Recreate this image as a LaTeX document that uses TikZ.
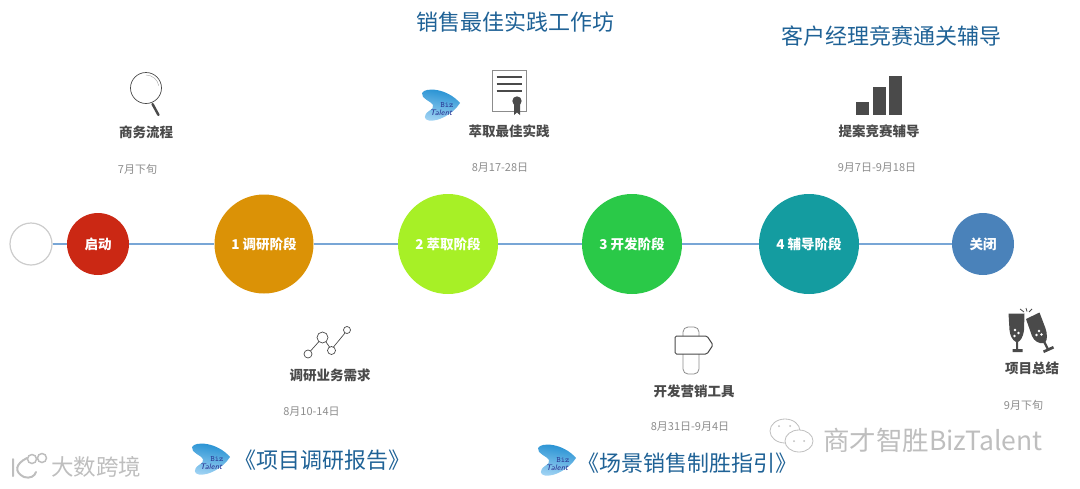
\documentclass[tikz,border=0pt]{standalone}
\usepackage{fontspec}
\setmainfont{Noto Sans CJK SC}
\definecolor{linkblue}{HTML}{78A6D6}
\definecolor{titleblue}{HTML}{1F6296}
\definecolor{icongray}{HTML}{4A4A4A}
\definecolor{markgray}{HTML}{BEBEBE}
\definecolor{logotop}{HTML}{1C8CD0}
\definecolor{logobottom}{HTML}{A2D4F4}
\definecolor{logotext}{HTML}{27308F}
\tikzset{
  stage/.style={circle,inner sep=0pt,text=white,font=\fontsize{13.5}{15}\selectfont\bfseries},
  task/.style={text=icongray,inner sep=0pt,font=\fontsize{13.5}{16}\selectfont\bfseries},
  date/.style={text=black!45,inner sep=0pt,font=\fontsize{11}{12}\selectfont},
  bigtitle/.style={text=titleblue,inner sep=0pt,font=\fontsize{22}{26}\selectfont},
  wmark/.style={text=markgray,inner sep=0pt,font=\fontsize{22.5}{28}\selectfont},
  logo/.pic={
    \path[shade,top color=logotop,bottom color=logobottom,shading angle=-10]
      (-19,-12) .. controls (-16,-18) and (6,-17) .. (19,-2)
      .. controls (12,9) and (-3,17) .. (-12,15.5)
      .. controls (-17,15) and (-18,10) .. (-12,6)
      .. controls (-9,4) and (-7,2) .. (-8,0)
      .. controls (-10,-4) and (-20,-6) .. (-19,-12) -- cycle;
    \node[text=logotext,inner sep=0pt,font=\fontsize{8}{8}\ttfamily] at (6,0.5) {Biz};
    \node[text=logotext,inner sep=0pt,font=\fontsize{8}{8}\itshape\sffamily] at (0,7.5) {Talent};
  }
}
\begin{document}
\begin{tikzpicture}[x=1pt,y=-1pt]
  \useasboundingbox (0,0) rectangle (1080,488);

  % Etapas
  \node (s0) at (31,244) [circle,inner sep=0pt,minimum size=42pt,draw=black!20,line width=1.2pt,fill=white] {};
  \node (s1) at (98,244) [stage,minimum size=62pt,fill={rgb,255:red,203;green,40;blue,20}] {启动};
  \node (s2) at (264,244) [stage,minimum size=99pt,fill={rgb,255:red,219;green,146;blue,6}] {1 调研阶段};
  \node (s3) at (448,244) [stage,minimum size=100pt,fill={rgb,255:red,167;green,240;blue,38}] {2 萃取阶段};
  \node (s4) at (632,244) [stage,minimum size=100pt,fill={rgb,255:red,42;green,201;blue,72}] {3 开发阶段};
  \node (s5) at (809,244) [stage,minimum size=100pt,fill={rgb,255:red,20;green,156;blue,160}] {4 辅导阶段};
  \node (s6) at (983,244) [stage,minimum size=62pt,fill={rgb,255:red,74;green,130;blue,186}] {关闭};

  % Enlaces
  \foreach \from/\to in {s0/s1, s1/s2, s2/s3, s3/s4, s4/s5, s5/s6}
    \draw[linkblue,line width=2pt] (\from) -- (\to);

  % Tareas
  \node[task] (t1) at (146,132) {商务流程};
  \node[task] (t2) at (509,131) {萃取最佳实践};
  \node[task] (t3) at (879,131) {提案竞赛辅导};
  \node[task] (t4) at (330,375) {调研业务需求};
  \node[task] (t5) at (694,391) {开发营销工具};
  \node[task] (t6) at (1032,368) {项目总结};

  % Fechas
  \node[date] (d1) at (137.5,169) {7月下旬};
  \node[date] (d2) at (500,168) {8月17-28日};
  \node[date] (d3) at (877,168) {9月7日-9月18日};
  \node[date] (d4) at (311.5,412) {8月10-14日};
  \node[date] (d5) at (690,427) {8月31日-9月4日};
  \node[date] (d6) at (1023.5,405) {9月下旬};

  % Títulos
  \node[bigtitle] (b1) at (515.5,22) {销售最佳实践工作坊};
  \node[bigtitle] (b2) at (891.5,36) {客户经理竞赛通关辅导};
  \node[bigtitle] (b3) at (322,460) {《项目调研报告》};
  \node[bigtitle] (b4) at (687.5,463) {《场景销售制胜指引》};

  % Logos
  \pic at (441,105) {logo};
  \pic at (211,459) {logo};
  \pic at (557,460) {logo};

  % Lupa
  \draw[icongray,line width=.7pt] (146,88) circle (15.5);
  \draw[black!30,line width=.5pt] (146,75) arc (-90:-10:13);
  \draw[icongray,line width=2.4pt,line cap=round] (152.5,104) -- (158.5,115);

  % Certificado
  \draw[black!45,line width=.7pt] (492.5,70) rectangle (526,111);
  \foreach \y in {77,84,90.5}
    \draw[icongray,line width=2pt] (496.5,\y) -- (522,\y);
  \fill[icongray] (517,101) circle (4.7);
  \fill[icongray] (514,104) -- (514,115) -- (517,112.5) -- (520,115) -- (520,104) -- cycle;

  % Barras
  \fill[icongray] (856,101.5) rectangle (869,114.5);
  \fill[icongray] (872.5,87) rectangle (885.5,114.5);
  \fill[icongray] (889,75.5) rectangle (902,114.5);

  % Curva
  \foreach \cx/\cy/\r in {308/354/4, 322.5/337.5/5.5, 331.5/350.5/4, 347/330/3.5}
    \draw[icongray,line width=.7pt] (\cx,\cy) circle (\r);
  \draw[icongray,line width=.7pt] (310.5,351) -- (319,341.5) (326,342) -- (329.5,347) (333.5,347) -- (345,333);

  % Señal
  \draw[black!45,line width=.8pt,rounded corners=5pt] (683,336) -- (683,327) -- (699,327) -- (699,336);
  \draw[black!45,line width=.8pt,rounded corners=5pt] (683,354) -- (683,374) -- (699,374) -- (699,354);
  \draw[icongray,line width=1pt,rounded corners=1.5pt] (675,336) -- (707,336) -- (713,345) -- (707,354) -- (675,354) -- cycle;

  % Copas
  \fill[icongray] (1008.5,313.5) -- (1024.5,313.5) -- (1024,330) .. controls (1023,338) and (1020,341) .. (1018,342)
    -- (1018,349) -- (1022.5,349) -- (1022.5,352) -- (1012.5,352) -- (1012.5,349) -- (1016,349) -- (1016,342)
    .. controls (1012,340) and (1010,335) .. (1009.5,330) -- cycle;
  \fill[icongray] (1026,319) -- (1039.5,312.5) -- (1045,327) .. controls (1048,335) and (1047,340) .. (1045.5,342)
    -- (1048.5,348) -- (1053,346) -- (1054,348.5) -- (1044,353) -- (1043,350.5) -- (1046.5,349) -- (1043.5,343)
    .. controls (1039,344) and (1034,341) .. (1032,336) -- cycle;
  \fill[white] (1015,330) circle (1.4) (1018.5,333) circle (1.4) (1014.5,336) circle (1.4)
    (1039,331) circle (1.4) (1041.5,334.5) circle (1.4) (1036.5,335) circle (1.4);
  \draw[icongray,line width=.8pt] (1020,309) -- (1024,312) (1026,308) -- (1027,311.5) (1032,309) -- (1029,312);

  % Marcas de agua
  \node[wmark] (w1) at (96,467) {大数跨境};
  \node[wmark,font=\fontsize{26.5}{30}\selectfont] (w2) at (933,440) {商才智胜BizTalent};
  \draw[markgray,line width=2pt,line cap=round] (13,459) -- (13,476) (27,458) .. controls (15,464) and (14,472) .. (24,477) .. controls (30,479) and (35,476) .. (36,472);
  \draw[markgray,line width=1.5pt] (32,459) circle (4.5) (42,458) circle (4.5);
  \draw[markgray,line width=.8pt,fill=white] (785,431) ellipse (15 and 12);
  \draw[markgray,line width=.8pt,fill=white] (799,441) ellipse (14 and 11);
  \fill[markgray] (779,426) circle (1) (790,426) circle (1) (794,441) circle (1) (804,441) circle (1);
\end{tikzpicture}
\end{document}
